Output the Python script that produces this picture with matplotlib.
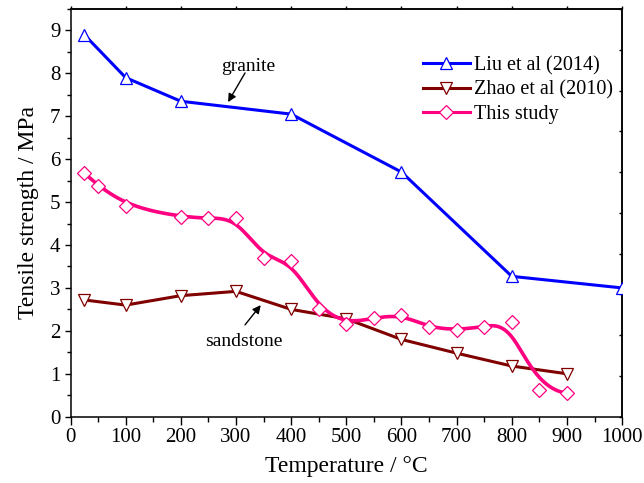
import numpy as np
import matplotlib
matplotlib.use("Agg")
import matplotlib.pyplot as plt
from matplotlib.ticker import MultipleLocator
from matplotlib.lines import Line2D

plt.rcParams['font.family'] = ['Liberation Serif', 'DejaVu Serif']
plt.rcParams['mathtext.fontset'] = 'stix'

# ---- data ----
liu_T = [25, 100, 200, 400, 600, 800, 1000]
liu_S = [8.9, 7.9, 7.35, 7.05, 5.7, 3.27, 3.0]

zhao_T = [25, 100, 200, 300, 400, 500, 600, 700, 800, 900]
zhao_S = [2.72, 2.6, 2.82, 2.92, 2.5, 2.28, 1.8, 1.48, 1.18, 1.0]

this_T = [25, 50, 100, 200, 250, 300, 350, 400, 450, 500, 550, 600, 650, 700, 750, 800, 850, 900]
this_S = [5.68, 5.38, 4.9, 4.66, 4.62, 4.63, 3.7, 3.63, 2.52, 2.17, 2.3, 2.38, 2.08, 2.02, 2.1, 2.2, 0.62, 0.55]

x_ticks = [0, 100, 200, 300, 400, 500, 600, 700, 800, 900, 1000]
y_ticks = [0, 1, 2, 3, 4, 5, 6, 7, 8, 9]

c_liu = '#0000FF'
c_zhao = '#800000'
c_this = '#FF0080'


def bspline_curve(px, py, degree=3, n=600):
    """Clamped uniform B-spline using the data points as control points
    (the 'B-Spline' connection style of the original plot)."""
    P = np.column_stack([px, py]).astype(float)
    m = len(P)
    k = degree
    inner = np.linspace(0, 1, m - k + 1)
    knots = np.concatenate([np.zeros(k), inner, np.ones(k)])
    t = np.linspace(0, 1, n)
    t[-1] = 1 - 1e-12
    out = np.zeros((n, 2))
    for idx, tv in enumerate(t):
        N = np.array([1.0 if knots[i] <= tv < knots[i + 1] else 0.0
                      for i in range(len(knots) - 1)])
        for d in range(1, k + 1):
            Nn = np.zeros(len(knots) - 1 - d)
            for i in range(len(Nn)):
                a = 0.0
                den1 = knots[i + d] - knots[i]
                den2 = knots[i + d + 1] - knots[i + 1]
                if den1 > 0:
                    a += (tv - knots[i]) / den1 * N[i]
                if den2 > 0:
                    a += (knots[i + d + 1] - tv) / den2 * N[i + 1]
                Nn[i] = a
            N = Nn
        out[idx] = N @ P
    return out[:, 0], out[:, 1]


fig = plt.figure(figsize=(6.44, 4.83), dpi=100)
ax = fig.add_axes([0.1095, 0.1373, 0.8565, 0.8441])

lw = 2.2
ms_tri = 9
ax.plot(liu_T, liu_S, color=c_liu, lw=lw, marker='^', ms=ms_tri,
        mfc='white', mec=c_liu, mew=0.9, zorder=3)
ax.plot(zhao_T, zhao_S, color=c_zhao, lw=lw, marker='v', ms=ms_tri,
        mfc='white', mec=c_zhao, mew=0.9, zorder=3)
sx, sy = bspline_curve(this_T, this_S)
ax.plot(sx, sy, color=c_this, lw=2.6, zorder=3)
ax.plot(this_T, this_S, ls='none', marker='D', ms=7.5,
        mfc='white', mec=c_this, mew=0.9, zorder=4)

ax.set_xlim(0, 1000)
ax.set_ylim(0, 9.5)
ax.set_xticks(x_ticks)
ax.set_yticks(y_ticks)
ax.xaxis.set_minor_locator(MultipleLocator(50))
ax.yaxis.set_minor_locator(MultipleLocator(0.5))

for sp in ax.spines.values():
    sp.set_linewidth(1.1)

ax.tick_params(axis='x', which='major', direction='out', length=5.8, width=1.0,
               labelsize=15, pad=2)
ax.tick_params(axis='x', which='minor', direction='out', length=3.6, width=1.0)
ax.tick_params(axis='y', which='major', direction='out', length=4.3, width=1.0,
               labelsize=15, pad=3)
ax.tick_params(axis='y', which='minor', direction='out', length=2.9, width=1.0)

# top ticks
sec_top = ax.secondary_xaxis('top')
sec_top.set_xticks(x_ticks)
sec_top.tick_params(direction='out', length=2.5, width=1.0, labeltop=False)
# right ticks (independent 0-10 scale)
sec_right = ax.secondary_yaxis('right', functions=(lambda v: v * 10 / 9.5,
                                                    lambda v: v * 9.5 / 10))
sec_right.set_yticks(range(0, 11))
sec_right.tick_params(direction='in', length=2.5, width=1.0, labelright=False)
sec_right.spines['right'].set_linewidth(1.1)
sec_top.spines['top'].set_linewidth(1.1)

ax.set_xlabel('Temperature / °C', fontsize=17)
ax.set_ylabel('Tensile strength / MPa', fontsize=17)
ax.xaxis.set_label_coords(0.5, -0.096)
ax.yaxis.set_label_coords(-0.057, 0.5)

# annotations
arrow = dict(arrowstyle='-|>', color='black', lw=1.0,
             mutation_scale=12, shrinkA=0, shrinkB=0)
ax.text(323, 8.15, 'granite', fontsize=14, ha='center', va='center')
ax.annotate('', xy=(285.6, 7.33), xytext=(316.4, 8.01), arrowprops=arrow)
ax.text(314, 1.76, 'sandstone', fontsize=14, ha='center', va='center')
ax.annotate('', xy=(344.9, 2.60), xytext=(316.4, 2.14), arrowprops=arrow)

handles = [
    Line2D([], [], color=c_liu, lw=lw, marker='^', ms=ms_tri, mfc='white', mec=c_liu, mew=0.9),
    Line2D([], [], color=c_zhao, lw=lw, marker='v', ms=ms_tri, mfc='white', mec=c_zhao, mew=0.9),
    Line2D([], [], color=c_this, lw=lw, marker='D', ms=7.5, mfc='white', mec=c_this, mew=0.9),
]
labels = ['Liu et al (2014)', 'Zhao et al (2010)', 'This study']
ax.legend(handles, labels, loc='upper left', bbox_to_anchor=(0.625, 0.904),
          frameon=False, fontsize=14.5, handlelength=2.3, handletextpad=0.2,
          labelspacing=0.25, borderaxespad=0)

fig.savefig('out.png', dpi=100)
